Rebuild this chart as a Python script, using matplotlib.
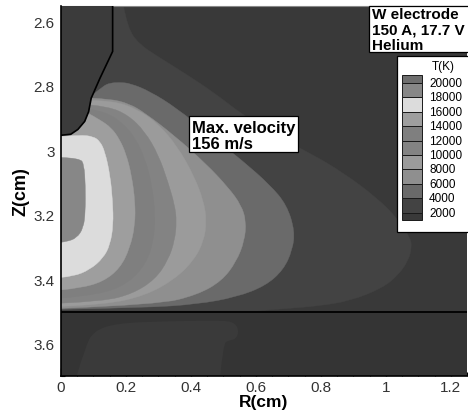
import matplotlib
matplotlib.use('Agg')
import matplotlib.pyplot as plt
from matplotlib.patches import Rectangle, PathPatch
from matplotlib.path import Path
from matplotlib.ticker import MultipleLocator, FuncFormatter

plt.rcParams['font.family'] = ['Liberation Sans', 'DejaVu Sans']

# ---------------- data ----------------
levels = [2000, 4000, 6000, 8000, 10000, 12000, 14000, 16000, 18000, 20000]
# band colours: index 0 = below 2000, index i = between levels[i-1] and levels[i], last = above 20000
band_colors = ['#393939', '#434343', '#6a6a6a', '#8f8f8f', '#9b9b9b', '#838383',
               '#7f7f7f', '#9e9e9e', '#dcdcdc', '#878787', '#6e6e6e']

# contour lines (R in cm, Z in cm) bounding the region hotter than each level
t2000_r = [0.192, 0.205, 0.24, 0.30, 0.38, 0.47, 0.56, 0.66, 0.77, 0.87, 0.97, 1.035, 1.075, 1.08, 1.07, 1.04, 0.99, 0.89, 0.79, 0.69, 0.60]
t2000_z = [2.55, 2.62, 2.67, 2.71, 2.76, 2.82, 2.89, 2.955, 3.01, 3.07, 3.145, 3.21, 3.27, 3.30, 3.34, 3.385, 3.427, 3.467, 3.483, 3.491, 3.498]

t4000_r = [0.095, 0.13, 0.151, 0.18, 0.213, 0.274, 0.356, 0.459, 0.561, 0.643, 0.695, 0.72, 0.712, 0.685, 0.63, 0.54, 0.42, 0.26, 0.0]
t4000_z = [2.83, 2.80, 2.791, 2.789, 2.792, 2.817, 2.869, 2.952, 3.034, 3.107, 3.169, 3.251, 3.31, 3.37, 3.42, 3.455, 3.477, 3.488, 3.493]

t6000_r = [0.092, 0.15, 0.21, 0.26, 0.35, 0.445, 0.515, 0.555, 0.57, 0.565, 0.54, 0.495, 0.42, 0.30, 0.0]
t6000_z = [2.838, 2.84, 2.855, 2.885, 2.955, 3.04, 3.115, 3.17, 3.22, 3.28, 3.345, 3.405, 3.448, 3.478, 3.49]

t8000_r = [0.09, 0.16, 0.235, 0.30, 0.36, 0.41, 0.44, 0.448, 0.44, 0.41, 0.35, 0.26, 0.14, 0.0]
t8000_z = [2.845, 2.846, 2.872, 2.918, 2.99, 3.08, 3.16, 3.22, 3.28, 3.34, 3.40, 3.45, 3.478, 3.484]

t10000_r = [0.089, 0.145, 0.206, 0.258, 0.30, 0.33, 0.35, 0.356, 0.35, 0.33, 0.29, 0.22, 0.13, 0.0]
t10000_z = [2.859, 2.864, 2.89, 2.941, 3.014, 3.10, 3.17, 3.22, 3.28, 3.34, 3.40, 3.445, 3.468, 3.474]

t12000_r = [0.087, 0.134, 0.186, 0.228, 0.26, 0.28, 0.29, 0.285, 0.262, 0.21, 0.12, 0.0]
t12000_z = [2.872, 2.88, 2.912, 2.96, 3.03, 3.11, 3.20, 3.28, 3.35, 3.41, 3.448, 3.458]

t14000_r = [0.084, 0.12, 0.155, 0.18, 0.20, 0.217, 0.228, 0.228, 0.212, 0.182, 0.13, 0.06, 0.0]
t14000_z = [2.885, 2.905, 2.93, 2.965, 3.01, 3.076, 3.158, 3.231, 3.303, 3.365, 3.407, 3.427, 3.433]

t16000_r = [0.0, 0.059, 0.10, 0.12, 0.135, 0.151, 0.159, 0.161, 0.151, 0.13, 0.089, 0.038, 0.0]
t16000_z = [2.957, 2.952, 2.957, 2.972, 3.003, 3.076, 3.158, 3.231, 3.293, 3.334, 3.37, 3.391, 3.394]

t18000_r = [0.0, 0.059, 0.071, 0.075, 0.075, 0.069, 0.048, 0.018, 0.0]
t18000_z = [3.022, 3.024, 3.045, 3.107, 3.19, 3.241, 3.272, 3.283, 3.285]

# tungsten electrode outline
electrode_r = [0.159, 0.159, 0.12, 0.093, 0.085, 0.073, 0.052, 0.03, 0.0]
electrode_z = [2.55, 2.693, 2.776, 2.838, 2.88, 2.91, 2.935, 2.95, 2.953]

# anode surface and warmer zone inside the anode
anode_z = 3.5
anode_warm_r = [0.048, 0.074, 0.099, 0.171, 0.325, 0.468, 0.53, 0.548, 0.54, 0.515, 0.50, 0.49]
anode_warm_z = [3.70, 3.613, 3.561, 3.536, 3.53, 3.528, 3.53, 3.556, 3.585, 3.59, 3.60, 3.70]

info_lines = ['W electrode', '150 A, 17.7 V', 'Helium']
velocity_lines = ['Max. velocity', '156 m/s']
x_ticks = [0, 0.2, 0.4, 0.6, 0.8, 1, 1.2]
y_ticks = [2.6, 2.8, 3, 3.2, 3.4, 3.6]

contours = [(t2000_r, t2000_z), (t4000_r, t4000_z), (t6000_r, t6000_z), (t8000_r, t8000_z),
            (t10000_r, t10000_z), (t12000_r, t12000_z), (t14000_r, t14000_z),
            (t16000_r, t16000_z), (t18000_r, t18000_z)]


def region_path(r, z):
    """Closed region bounded by the axis and a contour drawn as a smooth curve
    (quadratic segments using the traced points as control points)."""
    verts = [(0.0, z[0]), (r[0], z[0])]
    codes = [Path.MOVETO, Path.LINETO]
    n = len(r)
    for i in range(1, n - 1):
        mx = 0.5 * (r[i] + r[i + 1])
        mz = 0.5 * (z[i] + z[i + 1])
        if i == n - 2:
            mx, mz = r[i + 1], z[i + 1]
        verts += [(r[i], z[i]), (mx, mz)]
        codes += [Path.CURVE3, Path.CURVE3]
    verts += [(0.0, z[-1]), (0.0, z[0])]
    codes += [Path.LINETO, Path.CLOSEPOLY]
    return Path(verts, codes)


# ---------------- figure ----------------
W, H = 468, 414
fig = plt.figure(figsize=(W / 100, H / 100), dpi=100)
def FX(px):
    return px / W
def FY(py):
    return 1 - py / H

ax = fig.add_axes([FX(61), FY(377), (467 - 61) / W, (377 - 7) / H])
ax.set_facecolor(band_colors[0])
ax.set_xlim(0, 1.25)
ax.set_ylim(3.7, 2.552)

for i, (r, z) in enumerate(contours):
    c = band_colors[i + 1]
    ax.add_patch(PathPatch(region_path(r, z), facecolor=c, edgecolor=c, lw=0.3, zorder=2 + i))

# anode
ax.axhspan(anode_z, 3.7, facecolor='#343434', edgecolor='none', zorder=20)
ax.add_patch(PathPatch(region_path(anode_warm_r, anode_warm_z), facecolor='#3a3a3a', edgecolor='none', zorder=21))
ax.axhline(anode_z, color='black', lw=1.3, zorder=30)

# electrode
ax.fill([0.0] + electrode_r, [electrode_z[0]] + electrode_z, facecolor='#3b3b3b', edgecolor='none', zorder=25)
ax.plot(electrode_r, electrode_z, color='black', lw=1.2, zorder=31)

# axes styling
ax.xaxis.set_minor_locator(MultipleLocator(0.05))
ax.yaxis.set_minor_locator(MultipleLocator(0.05))
fmt = FuncFormatter(lambda v, p: '%g' % round(v, 3))
ax.set_xticks(x_ticks)
ax.set_yticks(y_ticks)
ax.xaxis.set_major_formatter(fmt)
ax.yaxis.set_major_formatter(fmt)
ax.tick_params(which='both', direction='in', top=False, right=False, color='black', zorder=40)
ax.tick_params(which='major', length=6, width=1.0, labelsize=11, labelcolor='#333333')
ax.tick_params(axis='x', which='major', pad=3.0)
ax.tick_params(axis='y', which='major', pad=4.5)
ax.tick_params(which='minor', length=3, width=0.8)
for s in ['left', 'bottom']:
    ax.spines[s].set_color('black')
    ax.spines[s].set_linewidth(1.2)
    ax.spines[s].set_zorder(45)
ax.spines['top'].set_color('#888888')
ax.spines['top'].set_linewidth(0.8)
ax.spines['right'].set_visible(False)

ax.set_xlabel('R(cm)', fontsize=12.5, fontweight='bold', labelpad=0)
ax.set_ylabel('Z(cm)', fontsize=13, fontweight='bold', labelpad=3)

# info box
fig.patches.append(Rectangle((FX(369), FY(52.5)), (470 - 369) / W, (52.5 - 7) / H,
                             transform=fig.transFigure, facecolor='white', edgecolor='black', lw=0.9, zorder=50))
for line, by in zip(info_lines, [19, 34.5, 50]):
    fig.text(FX(372), FY(by), line, fontsize=11, fontweight='bold', va='baseline', ha='left', zorder=51)

# velocity box
fig.patches.append(Rectangle((FX(189), FY(152.7)), (298.3 - 189) / W, (152.7 - 117.3) / H,
                             transform=fig.transFigure, facecolor='white', edgecolor='black', lw=0.9, zorder=50))
for line, by in zip(velocity_lines, [133.3, 149.0]):
    fig.text(FX(192.5), FY(by), line, fontsize=12, fontweight='bold', va='baseline', ha='left', zorder=51)

# legend
fig.patches.append(Rectangle((FX(397), FY(233)), (470 - 397) / W, (233 - 57) / H,
                             transform=fig.transFigure, facecolor='white', edgecolor='black', lw=0.9, zorder=50))
fig.text(FX(443), FY(67), 'T(K)', fontsize=8.5, ha='center', va='center', zorder=51)
step = 14.4
line_y = [213.6 - step * k for k in range(len(levels))]
edges = [221.0] + line_y + [76.0]
sx0, sx1 = 402.3, 421.7
for i in range(len(band_colors)):
    y_bot, y_top = edges[i], edges[i + 1]
    fig.patches.append(Rectangle((FX(sx0), FY(y_bot)), (sx1 - sx0) / W, (y_bot - y_top) / H,
                                 transform=fig.transFigure, facecolor=band_colors[i],
                                 edgecolor='#1a1a1a', lw=0.7, zorder=52))
for lev, y in zip(levels, line_y):
    fig.text(FX(429), FY(y), str(lev), fontsize=8.5, ha='left', va='center', zorder=53)

fig.savefig('out.png', dpi=100)
